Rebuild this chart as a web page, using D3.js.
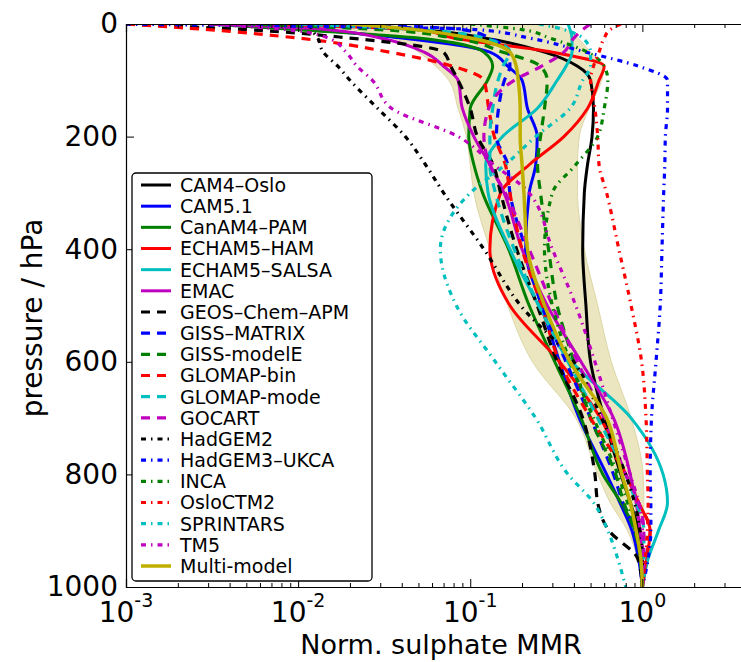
<!DOCTYPE html>
<html>
<head>
<meta charset="utf-8">
<script src="https://cdn.jsdelivr.net/npm/d3@7"></script>
<style>
  body { margin: 0; background: #fff; }
  text { font-family: "DejaVu Sans", sans-serif; fill: #000; }
</style>
</head>
<body>
<div id="viz"></div>
<script>
/*** data: pressure levels (hPa) and normalised sulphate MMR per model ***/
const levels = [0, 10, 25, 50, 75, 100, 150, 200, 250, 300, 400, 500, 600, 700, 800, 850, 900, 950, 1000];

const cam4Oslo    = [0.01, 0.05, 0.12, 0.27, 0.42, 0.5, 0.52, 0.51, 0.48, 0.46, 0.45, 0.47, 0.5, 0.6, 0.75, 0.85, 0.95, 0.98, 1.0];
const cam51       = [0.003, 0.012, 0.04, 0.13, 0.165, 0.2, 0.215, 0.245, 0.24, 0.22, 0.21, 0.26, 0.33, 0.43, 0.62, 0.74, 0.87, 0.95, 1.0];
const canam4Pam   = [0.003, 0.01, 0.05, 0.12, 0.135, 0.126, 0.1, 0.098, 0.105, 0.118, 0.167, 0.22, 0.31, 0.44, 0.59, 0.75, 0.91, 0.97, 1.0];
const echam5Ham   = [0.004, 0.05, 0.08, 0.3, 0.6, 0.56, 0.48, 0.35, 0.22, 0.15, 0.13, 0.17, 0.33, 0.57, 0.8, 0.95, 1.11, 1.06, 1.0];
const echam5Salsa = [0.37, 0.38, 0.39, 0.39, 0.36, 0.32, 0.245, 0.154, 0.123, 0.127, 0.17, 0.25, 0.39, 0.86, 1.32, 1.4, 1.24, 1.08, 1.0];
const emac        = [0.003, 0.015, 0.03, 0.054, 0.07, 0.085, 0.09, 0.105, 0.13, 0.157, 0.2, 0.28, 0.44, 0.68, 0.85, 0.92, 0.97, 1.0, 1.0];
const geosChemApm = [0.001, 0.005, 0.02, 0.07, 0.077, 0.085, 0.1, 0.11, 0.136, 0.15, 0.186, 0.245, 0.32, 0.45, 0.53, 0.55, 0.64, 0.94, 1.0];
const gissMatrix  = [0.02, 0.09, 0.13, 0.167, 0.17, 0.158, 0.146, 0.142, 0.165, 0.17, 0.21, 0.26, 0.36, 0.5, 0.68, 0.77, 0.9, 0.98, 1.0];
const gissModelE  = [0.005, 0.03, 0.08, 0.155, 0.256, 0.28, 0.27, 0.256, 0.246, 0.256, 0.285, 0.32, 0.4, 0.5, 0.7, 0.78, 0.9, 0.98, 1.0];
const glomapBin   = [0.001, 0.003, 0.01, 0.034, 0.079, 0.12, 0.128, 0.138, 0.16, 0.17, 0.2, 0.26, 0.33, 0.5, 0.8, 0.95, 1.11, 1.05, 1.0];
const glomapMode  = [0.01, 0.05, 0.12, 0.17, 0.155, 0.145, 0.135, 0.13, 0.13, 0.14, 0.18, 0.25, 0.37, 0.55, 0.8, 0.92, 1.02, 1.02, 1.0];
const gocart      = [0.5, 0.45, 0.4, 0.35, 0.26, 0.18, 0.128, 0.12, 0.13, 0.16, 0.22, 0.3, 0.42, 0.6, 0.8, 0.95, 1.02, 1.02, 1.0];
const hadgem2     = [0.0117, 0.012, 0.013, 0.014, 0.017, 0.02, 0.029, 0.042, 0.055, 0.07, 0.12, 0.196, 0.4, 0.58, 0.8, 0.9, 0.97, 1.0, 1.0];
const hadgem3Ukca = [0.0008, 0.11, 0.22, 0.47, 0.95, 1.4, 1.4, 1.36, 1.35, 1.33, 1.3, 1.27, 1.2, 1.13, 1.11, 1.12, 1.12, 1.08, 1.0];
const inca        = [0.1, 0.2, 0.29, 0.48, 0.6, 0.63, 0.6, 0.55, 0.41, 0.3, 0.27, 0.3, 0.38, 0.52, 0.72, 0.82, 0.92, 0.98, 1.0];
const osloCtm2    = [0.75, 0.65, 0.6, 0.56, 0.52, 0.5, 0.53, 0.55, 0.56, 0.62, 0.73, 0.86, 0.99, 1.05, 1.07, 1.08, 1.07, 1.04, 1.0];
const sprintars   = [0.25, 0.35, 0.45, 0.5, 0.5, 0.45, 0.38, 0.24, 0.16, 0.1, 0.067, 0.083, 0.14, 0.24, 0.37, 0.52, 0.63, 0.72, 0.8];
const tm5         = [0.003, 0.0085, 0.015, 0.019, 0.022, 0.027, 0.035, 0.085, 0.137, 0.22, 0.3, 0.41, 0.53, 0.67, 0.85, 0.95, 1.0, 1.0, 1.0];
const multiModel  = [0.02, 0.048, 0.1, 0.17, 0.185, 0.19, 0.195, 0.195, 0.2, 0.205, 0.215, 0.27, 0.38, 0.62, 0.76, 0.85, 0.92, 0.98, 1.0];

// shaded spread round the multi-model mean
const spreadLow  = [0.008, 0.02, 0.035, 0.05, 0.063, 0.075, 0.085, 0.095, 0.1, 0.105, 0.13, 0.165, 0.23, 0.41, 0.55, 0.65, 0.82, 0.94, 1.0];
const spreadHigh = [0.3, 0.36, 0.42, 0.5, 0.6, 0.58, 0.49, 0.43, 0.42, 0.42, 0.46, 0.55, 0.66, 0.86, 1.01, 1.02, 1.02, 1.01, 1.0];

const modelNames = ["CAM4–Oslo", "CAM5.1", "CanAM4–PAM", "ECHAM5–HAM", "ECHAM5–SALSA", "EMAC",
  "GEOS–Chem–APM", "GISS–MATRIX", "GISS-modelE", "GLOMAP-bin", "GLOMAP-mode", "GOCART",
  "HadGEM2", "HadGEM3–UKCA", "INCA", "OsloCTM2", "SPRINTARS", "TM5", "Multi-model"];
const modelValues = [cam4Oslo, cam51, canam4Pam, echam5Ham, echam5Salsa, emac,
  geosChemApm, gissMatrix, gissModelE, glomapBin, glomapMode, gocart,
  hadgem2, hadgem3Ukca, inca, osloCtm2, sprintars, tm5, multiModel];

const xTicks = [1e-3, 1e-2, 1e-1, 1];
const xTickExp = ["-3", "-2", "-1", "0"];
const yTicks = [0, 200, 400, 600, 800, 1000];

/*** styles ***/
const colors = ["#000000", "#0000ff", "#008000", "#ff0000", "#00bfbf", "#bf00bf"];
const dashes = { solid: null, dashed: "9,7", dashdot: "5,5,1.5,5" };
const styleOf = i => {
  if (i === 18) return { color: "#bfb000", dash: null, width: 3.5 };
  const kind = i < 6 ? "solid" : i < 12 ? "dashed" : "dashdot";
  return { color: colors[i % 6], dash: dashes[kind], width: kind === "solid" ? 3 : 3.2 };
};

/*** layout ***/
const width = 741, height = 662;
const m = { left: 126, top: 24, bottom: 587, right: 746 };

const x = d3.scaleLog().domain([1e-3, 4]).range([m.left, m.right]);
const y = d3.scaleLinear().domain([0, 1000]).range([m.top, m.bottom]);

const svg = d3.select("#viz").append("svg")
  .attr("width", width).attr("height", height);

svg.append("defs").append("clipPath").attr("id", "clip")
  .append("rect").attr("x", m.left).attr("y", m.top)
  .attr("width", m.right - m.left).attr("height", m.bottom - m.top);

const plot = svg.append("g").attr("clip-path", "url(#clip)");

// spread band
const band = d3.area()
  .y(d => y(d.p))
  .x0(d => x(d.lo))
  .x1(d => x(d.hi))
  .curve(d3.curveMonotoneY);
plot.append("path")
  .datum(levels.map((p, i) => ({ p, lo: spreadLow[i], hi: spreadHigh[i] })))
  .attr("d", band)
  .attr("fill", "#ebe6c0")
  .attr("stroke", "#ddd6a6")
  .attr("stroke-width", 1);

const line = d3.line()
  .x(d => x(d.v))
  .y(d => y(d.p))
  .curve(d3.curveMonotoneY);

modelValues.forEach((vals, i) => {
  const s = styleOf(i);
  plot.append("path")
    .datum(levels.map((p, j) => ({ p, v: vals[j] })))
    .attr("d", line)
    .attr("fill", "none")
    .attr("stroke", s.color)
    .attr("stroke-width", s.width)
    .attr("stroke-dasharray", s.dash);
});

/*** axes (ticks pointing inwards) ***/
const minor = [];
for (let e = -3; e <= 0; e++) for (let k = 2; k <= 9; k++) {
  const v = k * Math.pow(10, e);
  if (v < 4) minor.push(v);
}

function styleAxis(g) {
  g.select(".domain").attr("stroke", "#000").attr("stroke-width", 1.2);
  g.selectAll(".tick line").attr("stroke", "#000").attr("stroke-width", 1);
}

svg.append("g").attr("transform", `translate(0,${m.bottom})`)
  .call(d3.axisBottom(x).tickValues(xTicks).tickSize(-8).tickFormat(""))
  .call(styleAxis);
svg.append("g").attr("transform", `translate(0,${m.bottom})`)
  .call(d3.axisBottom(x).tickValues(minor).tickSize(-4).tickFormat(""))
  .call(g => g.select(".domain").remove())
  .call(styleAxis);
svg.append("g").attr("transform", `translate(0,${m.top})`)
  .call(d3.axisTop(x).tickValues(xTicks).tickSize(-8).tickFormat(""))
  .call(styleAxis);
svg.append("g").attr("transform", `translate(0,${m.top})`)
  .call(d3.axisTop(x).tickValues(minor).tickSize(-4).tickFormat(""))
  .call(g => g.select(".domain").remove())
  .call(styleAxis);

const yAxis = svg.append("g").attr("transform", `translate(${m.left},0)`)
  .call(d3.axisLeft(y).tickValues(yTicks).tickSize(-8).tickPadding(8).tickFormat(d3.format("d")))
  .call(styleAxis);
yAxis.selectAll(".tick text")
  .attr("font-size", 28)
  .attr("font-family", "DejaVu Sans")
  .attr("fill", "#000");

// x tick labels as 10^n
const xl = svg.append("g");
xTicks.forEach((v, i) => {
  const t = xl.append("text")
    .attr("x", x(v)).attr("y", 622)
    .attr("text-anchor", "middle")
    .attr("font-size", 28);
  t.append("tspan").text("10");
  t.append("tspan").attr("dy", -15).attr("font-size", 19).text(xTickExp[i]);
});

svg.append("text")
  .attr("x", 441).attr("y", 654)
  .attr("text-anchor", "middle")
  .attr("font-size", 27)
  .text("Norm. sulphate MMR");

svg.append("text")
  .attr("transform", "translate(42,318) rotate(-90)")
  .attr("text-anchor", "middle")
  .attr("font-size", 28)
  .text("pressure / hPa");

/*** legend ***/
const legend = svg.append("g");
legend.append("rect")
  .attr("x", 132).attr("y", 173)
  .attr("width", 240).attr("height", 408)
  .attr("rx", 4)
  .attr("fill", "#fff")
  .attr("stroke", "#000")
  .attr("stroke-width", 1.3);

const rowY = d3.scalePoint().domain(modelNames).range([185, 566]);
modelNames.forEach((name, i) => {
  const s = styleOf(i);
  const yy = rowY(name);
  legend.append("line")
    .attr("x1", 141).attr("x2", 171)
    .attr("y1", yy).attr("y2", yy)
    .attr("stroke", s.color)
    .attr("stroke-width", s.width)
    .attr("stroke-dasharray", s.dash);
  legend.append("text")
    .attr("x", 180).attr("y", yy)
    .attr("dy", "0.36em")
    .attr("font-size", 19)
    .text(name);
});
</script>
</body>
</html>
